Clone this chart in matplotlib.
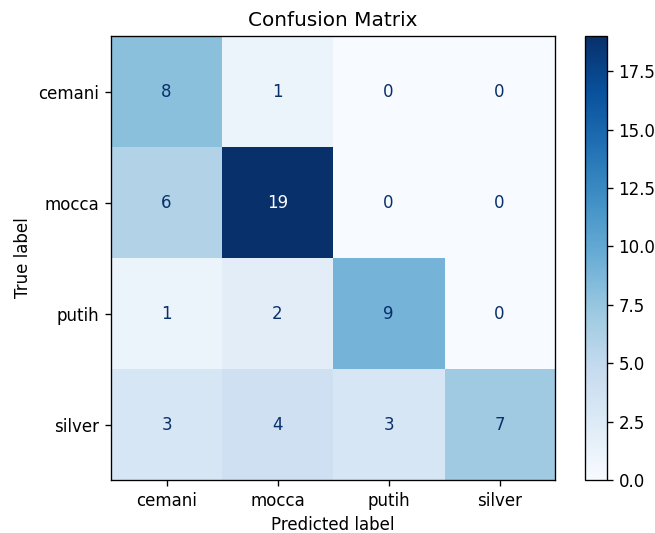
import matplotlib
matplotlib.use("Agg")
import matplotlib.pyplot as plt
import numpy as np

labels = ["cemani", "mocca", "putih", "silver"]
counts = [
    [8, 1, 0, 0],
    [6, 19, 0, 0],
    [1, 2, 9, 0],
    [3, 4, 3, 7],
]

scale = 1.2
plt.rcParams.update({
    "font.size": 10 * scale,
    "axes.titlesize": 12 * scale,
    "xtick.major.size": 3.5 * scale,
    "ytick.major.size": 3.5 * scale,
    "xtick.major.width": 0.8 * scale,
    "ytick.major.width": 0.8 * scale,
    "axes.linewidth": 0.8 * scale,
    "xtick.major.pad": 3.5 * scale,
    "ytick.major.pad": 3.5 * scale,
    "axes.labelpad": 4 * scale,
    "axes.titlepad": 6 * scale,
})

cm = np.array(counts)
fig = plt.figure(figsize=(6.55, 5.33), dpi=100)
ax = fig.add_axes([0.1695, 0.0994, 0.678, 0.833])
cax = fig.add_axes([0.893, 0.0994, 0.0336, 0.833])

cmap = plt.get_cmap("Blues")
im = ax.imshow(cm, interpolation="nearest", cmap=cmap, aspect="auto")
cb = fig.colorbar(im, cax=cax)
cb.set_ticks(np.arange(0, 17.6, 2.5))
cb.outline.set_linewidth(0.8 * scale)

thresh = (cm.max() + cm.min()) / 2.0
cmap_min, cmap_max = cmap(0.0), cmap(1.0)
for i in range(cm.shape[0]):
    for j in range(cm.shape[1]):
        color = cmap_max if cm[i, j] < thresh else cmap_min
        ax.text(j, i, format(cm[i, j], "d"), ha="center", va="center", color=color)

ax.set_xticks(np.arange(len(labels)))
ax.set_yticks(np.arange(len(labels)))
ax.set_xticklabels(labels)
ax.set_yticklabels(labels)
ax.set_xlabel("Predicted label")
ax.set_ylabel("True label")
ax.set_title("Confusion Matrix")
ax.set_xlim(-0.5, 3.5)
ax.set_ylim(3.5, -0.5)

fig.savefig("out.png", dpi=100)
